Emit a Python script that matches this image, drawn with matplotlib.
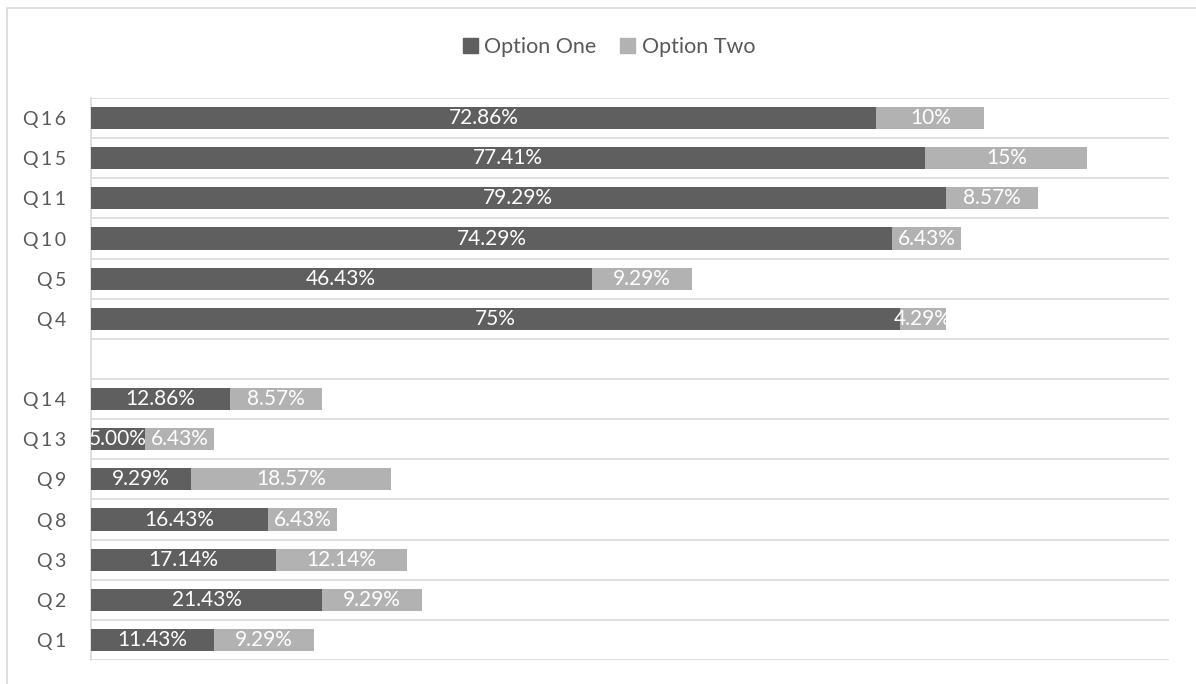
#!/usr/bin/env python3

#Stacked horizontal bar chart: Option One vs Option Two per question

import matplotlib.pyplot as plt
from matplotlib.patches import Rectangle, Patch

#Data (bottom to top, empty row is a spacer between the two groups)
questions = ["Q1", "Q2", "Q3", "Q8", "Q9", "Q13", "Q14", "", "Q4", "Q5", "Q10", "Q11", "Q15", "Q16"]
option_one = [11.43, 21.43, 17.14, 16.43, 9.29, 5.00, 12.86, 0, 75, 46.43, 74.29, 79.29, 77.41, 72.86]
option_two = [9.29, 9.29, 12.14, 6.43, 18.57, 6.43, 8.57, 0, 4.29, 9.29, 6.43, 8.57, 15, 10]
labels_one = ["11.43%", "21.43%", "17.14%", "16.43%", "9.29%", "5.00%", "12.86%", "", "75%", "46.43%", "74.29%", "79.29%", "77.41%", "72.86%"]
labels_two = ["9.29%", "9.29%", "12.14%", "6.43%", "18.57%", "6.43%", "8.57%", "", "4.29%", "9.29%", "6.43%", "8.57%", "15%", "10%"]

#Style
dark = "#5f5f5f"
light = "#b2b2b2"
grid_col = "#d9d9d9"
text_col = "#595959"
plt.rcParams["font.family"] = ["Lato", "DejaVu Sans"]

fig = plt.figure(figsize=(11.96, 6.84), dpi=100)
ax = fig.add_axes([91 / 1196, 1 - 660 / 684, (1169 - 91) / 1196, (660 - 98) / 684])

ypos = list(range(len(questions)))

ax.barh(ypos, option_one, height=0.55, color=dark, label="Option One", zorder=3)
ax.barh(ypos, option_two, left=option_one, height=0.55, color=light, label="Option Two", zorder=3)

#Value labels centred in each segment
for y, v1, v2, l1, l2 in zip(ypos, option_one, option_two, labels_one, labels_two):
    if l1:
        ax.text(v1 / 2, y, l1, ha="center", va="center", color="white",
                fontsize=15, zorder=4, clip_on=True)
    if l2:
        ax.text(v1 + v2 / 2, y, l2, ha="center", va="center", color="white",
                fontsize=15, zorder=4, clip_on=True)

#Axes
ax.set_xlim(0, 100)
ax.set_ylim(-0.5, len(questions) - 0.5)
ax.set_yticks(ypos)
ax.set_yticklabels(["\u2009".join(q) for q in questions], color=text_col, fontsize=14)
ax.tick_params(axis="y", length=0, pad=18)
ax.set_xticks([])
ax.set_yticks([y - 0.5 for y in range(len(questions) + 1)], minor=True)
ax.tick_params(axis="y", which="minor", length=0)
ax.grid(axis="y", which="minor", color=grid_col, linewidth=1.2, zorder=0)
for side in ["top", "right", "bottom"]:
    ax.spines[side].set_visible(False)
ax.spines["left"].set_color(grid_col)
ax.spines["left"].set_linewidth(1.2)

#Legend
handles = [Patch(color=dark, label="Option One"), Patch(color=light, label="Option Two")]
fig.legend(handles=handles, loc="center", bbox_to_anchor=(0.509, 1 - 47 / 684), ncol=2,
           frameon=False, fontsize=15.5, labelcolor=text_col, handlelength=0.7,
           handleheight=0.7, handletextpad=0.3, columnspacing=1.1)

#Chart border
fig.patches.append(Rectangle((7 / 1196, -0.05), 1.1, 1.05 - 8 / 684, transform=fig.transFigure,
                             fill=False, edgecolor=grid_col, linewidth=1.2))

plt.savefig("out.png", dpi=100)
plt.close()
